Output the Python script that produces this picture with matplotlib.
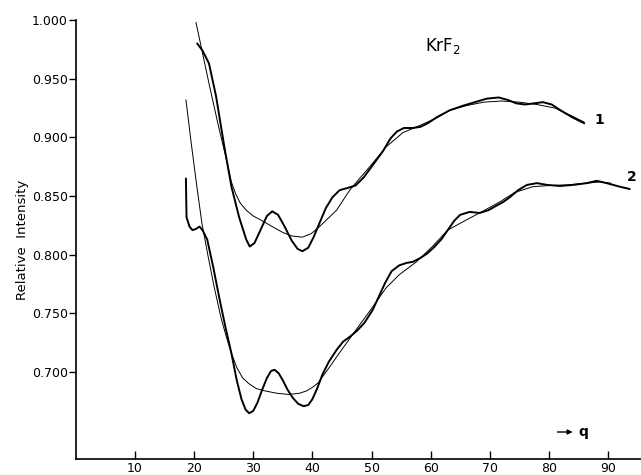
import matplotlib
matplotlib.use("Agg")
import matplotlib.pyplot as plt

# Curve 1 (upper) - experimental (thick, oscillating)
q1_exp = [20.5, 21.4, 22.5, 23.7, 25.1, 26.3, 27.6, 28.8, 29.4, 30.2, 31.3, 32.3, 33.2, 34.2,
          35.3, 36.5, 37.5, 38.3, 39.3, 40.2, 41.2, 42.3, 43.4, 44.6, 46.0, 47.3, 48.7, 50.3,
          51.9, 53.2, 54.3, 55.5, 57.0, 58.3, 59.5, 61.0, 63.2, 65.5, 67.5, 69.5, 71.5, 73.0,
          74.5, 76.0, 77.5, 79.0, 80.5, 82.0, 84.0, 86.0]
i1_exp = [0.980, 0.974, 0.963, 0.935, 0.892, 0.858, 0.832, 0.813, 0.807, 0.810, 0.822, 0.833, 0.837, 0.834,
          0.824, 0.812, 0.805, 0.803, 0.806, 0.815, 0.827, 0.840, 0.849, 0.855, 0.857, 0.859, 0.866, 0.877,
          0.888, 0.899, 0.905, 0.908, 0.908, 0.909, 0.912, 0.917, 0.923, 0.927, 0.930, 0.933, 0.934, 0.932,
          0.929, 0.928, 0.929, 0.930, 0.928, 0.923, 0.917, 0.912]

# Curve 1 (upper) - smooth theoretical (thin)
q1_th = [20.3, 22.5, 24.0, 25.5, 26.3, 27.0, 27.8, 28.8, 30.0, 31.5, 33.2, 35.0, 36.5, 38.3,
         39.8, 41.2, 44.1, 46.3, 49.7, 52.5, 55.3, 58.1, 61.0, 63.2, 66.0, 69.0, 72.0, 75.0,
         78.0, 81.0, 84.0, 86.0]
i1_th = [0.998, 0.946, 0.912, 0.880, 0.862, 0.852, 0.844, 0.838, 0.833, 0.829, 0.824, 0.819, 0.816, 0.815,
         0.818, 0.824, 0.838, 0.855, 0.875, 0.892, 0.904, 0.910, 0.9165, 0.923, 0.927, 0.930, 0.931, 0.930,
         0.928, 0.925, 0.918, 0.913]

# Curve 2 (lower) - experimental (thick, oscillating)
q2_exp = [18.6, 18.7, 19.2, 19.7, 20.3, 20.9, 21.4, 22.2, 23.2, 24.3, 25.3, 26.3, 27.2, 28.0,
          28.7, 29.3, 30.0, 30.7, 31.5, 32.3, 33.0, 33.6, 34.3, 35.0, 35.8, 36.7, 37.6, 38.5,
          39.3, 40.0, 40.8, 41.7, 42.8, 44.1, 45.2, 46.3, 47.5, 48.8, 50.2, 51.3, 52.3, 53.4,
          54.7, 55.9, 57.0, 58.2, 59.4, 60.5, 61.8, 62.9, 64.0, 65.0, 66.6, 68.3, 69.8, 71.2,
          72.3, 73.4, 74.8, 76.3, 78.0, 79.7, 81.9, 84.1, 86.4, 88.1, 89.8, 92.0, 93.7]
i2_exp = [0.865, 0.832, 0.824, 0.821, 0.822, 0.824, 0.821, 0.813, 0.790, 0.762, 0.738, 0.716, 0.693, 0.677,
          0.668, 0.665, 0.667, 0.674, 0.685, 0.695, 0.701, 0.702, 0.699, 0.693, 0.685, 0.678, 0.673, 0.671,
          0.672, 0.677, 0.686, 0.698, 0.709, 0.719, 0.726, 0.730, 0.735, 0.742, 0.753, 0.765, 0.776, 0.786,
          0.791, 0.793, 0.794, 0.797, 0.801, 0.806, 0.813, 0.821, 0.829, 0.834, 0.8365, 0.8356, 0.838, 0.842,
          0.845, 0.849, 0.855, 0.8595, 0.861, 0.8595, 0.8586, 0.8595, 0.861, 0.863, 0.861, 0.858, 0.856]

# Curve 2 (lower) - smooth theoretical (thin)
q2_th = [18.6, 19.5, 20.4, 21.3, 22.3, 23.4, 24.6, 25.5, 26.3, 27.2, 28.2, 29.3, 30.5, 32.0,
         34.0, 36.0, 37.8, 39.0, 40.0, 41.0, 41.7, 43.0, 44.1, 46.8, 49.7, 52.5, 54.7, 57.6,
         60.3, 62.9, 65.8, 68.8, 71.7, 74.2, 77.3, 80.2, 83.05, 86.4, 88.6, 90.5]
i2_th = [0.932, 0.895, 0.860, 0.827, 0.800, 0.772, 0.745, 0.729, 0.716, 0.704, 0.695, 0.690, 0.686, 0.684,
         0.682, 0.681, 0.682, 0.684, 0.687, 0.691, 0.696, 0.705, 0.713, 0.732, 0.752, 0.772, 0.783, 0.794,
         0.807, 0.821, 0.829, 0.837, 0.845, 0.853, 0.858, 0.859, 0.8595, 0.861, 0.862, 0.861]

yticks = [0.700, 0.750, 0.800, 0.850, 0.900, 0.950, 1.000]
ytick_labels = ["0.700", "0.750", "0.800", "0.850", "0.900", "0.950", "1.000"]
xticks = [10, 20, 30, 40, 50, 60, 70, 80, 90]

plt.rcParams['font.family'] = ['DejaVu Sans']
fig = plt.figure(figsize=(6.41, 4.75), dpi=100)
ax = fig.add_axes([76/641, 16/475, 1 - 76/641, (459 - 20)/475])

kw = dict(color='black', clip_on=False, solid_joinstyle='round', solid_capstyle='round')
ax.plot(q1_exp, i1_exp, lw=1.4, **kw)
ax.plot(q1_th, i1_th, lw=0.7, **kw)
ax.plot(q2_exp, i2_exp, lw=1.4, **kw)
ax.plot(q2_th, i2_th, lw=0.7, **kw)

ax.set_xlim(0, 95.6)
ax.set_ylim(0.626, 1.0)
ax.spines['top'].set_visible(False)
ax.spines['right'].set_visible(False)
ax.spines['left'].set_linewidth(1.2)
ax.spines['bottom'].set_linewidth(1.2)

ax.set_yticks(yticks)
ax.set_yticklabels(ytick_labels, fontsize=9)
ax.tick_params(axis='y', direction='out', length=5, width=1, pad=1)
ax.set_xticks(xticks)
ax.set_xticklabels([str(t) for t in xticks], fontsize=9)
ax.tick_params(axis='x', direction='in', length=6, width=1, pad=2)

ax.set_ylabel("Relative  Intensity", fontsize=9.5, labelpad=2)

ax.text(0.65, 0.94, "KrF$_2$", transform=ax.transAxes, fontsize=12, ha='center', va='center')
ax.text(88.6, 0.915, "1", fontsize=10, fontweight='bold', ha='center', va='center')
ax.text(94.0, 0.866, "2", fontsize=10, fontweight='bold', ha='center', va='center', clip_on=False)
ax.annotate("", xy=(84.5, 0.649), xytext=(81.0, 0.649),
            arrowprops=dict(arrowstyle='-|>', color='black', lw=1, mutation_scale=7))
ax.text(85.0, 0.649, "q", fontsize=10, fontweight='bold', ha='left', va='center')

fig.savefig("out.png", dpi=100)
